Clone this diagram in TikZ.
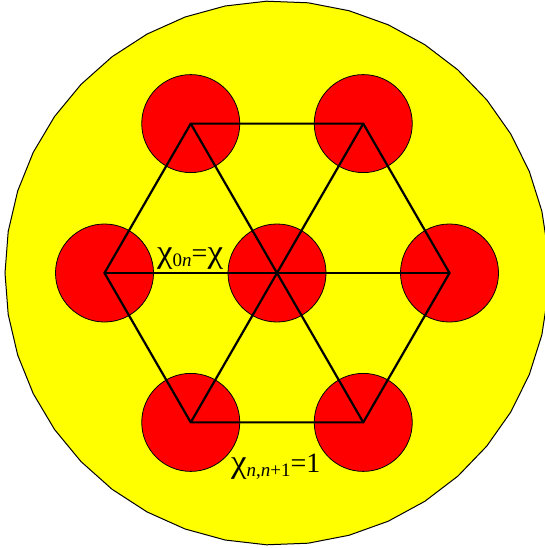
\documentclass[tikz,border=0pt]{standalone}
\usepackage{fontspec}
\setmainfont{Liberation Serif}
\definecolor{bgyellow}{RGB}{255,255,0}
\definecolor{diskred}{RGB}{255,0,0}
\newcommand{\bigchi}{\scalebox{1.25}[1.15]{χ}}
\begin{document}
\begin{tikzpicture}[x=1pt,y=-1pt,
  disk/.style={circle, draw=black, line width=0.8pt, fill=diskred, minimum size=98pt, inner sep=0pt},
  bond/.style={draw=black, line width=2.2pt},
  lbl/.style={inner sep=0pt, anchor=base west, font=\fontsize{28}{28}\selectfont}]
\useasboundingbox (0,0) rectangle (545,548);
\clip (0,0) rectangle (545,548);
\begin{scope}[shift={(277,273)}]
  \draw[fill=bgyellow, draw=black, line width=1pt] (180:272)
    \foreach \k in {1,...,40}{ -- ({180+\k*360/41}:272) } -- cycle;
  \node[disk] (c) at (0,0) {};
  \foreach \i in {0,...,5}{
    \node[disk] (v\i) at ({\i*60}:172.5) {};
  }
\end{scope}
\foreach \i in {0,...,5}{
  \draw[bond] (c.center) -- (v\i.center);
}
\draw[bond] (v0.center) -- (v1.center) -- (v2.center) -- (v3.center) -- (v4.center) -- (v5.center) -- cycle;
\node[lbl] (l1) at (157,262) {\bigchi\raisebox{-0.16em}{\fontsize{19}{19}\selectfont 0\textit{n}}=\bigchi};
\node[lbl] (l2) at (231,472) {\bigchi\raisebox{-0.16em}{\fontsize{19}{19}\selectfont \textit{n},\textit{n}+1}=1};
\end{tikzpicture}
\end{document}
